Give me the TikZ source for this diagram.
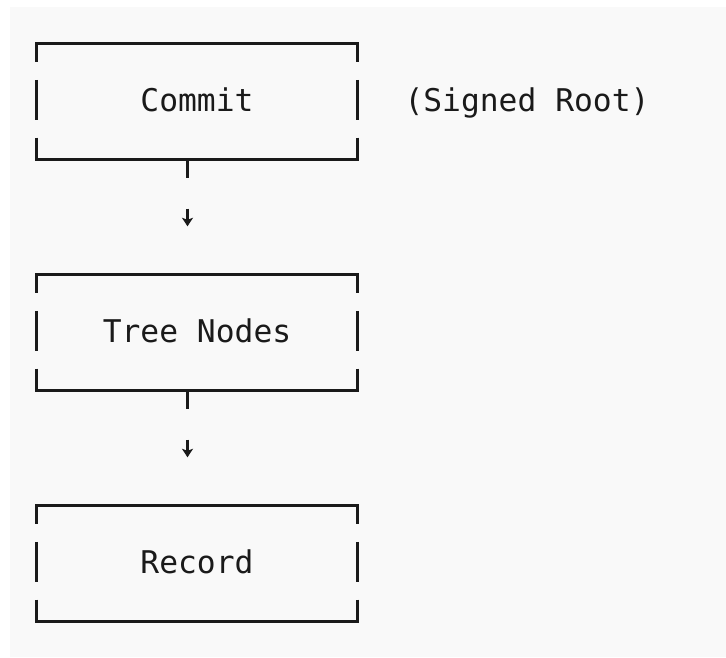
\documentclass[tikz,border=0pt]{standalone}
\usepackage{fontspec}
\usetikzlibrary{arrows.meta}
\newfontfamily\boxfont{DejaVu Sans Mono}
\newcommand\diagfont{\boxfont\fontsize{31.3pt}{37pt}\selectfont}
\definecolor{paper}{HTML}{F9F9F9}
\definecolor{ink}{HTML}{1A1A1A}
\begin{document}
\begin{tikzpicture}[x=1pt,y=-1pt]
	\tikzset{blk/.style={minimum width=320.6pt, minimum height=115.5pt, inner sep=0pt, text height=19.5pt, text depth=0pt, font=\diagfont, text=ink},
		hline/.style={draw=ink, line width=2.6pt, line cap=rect},
		vline/.style={draw=ink, line width=2.6pt, dash pattern=on 18.8pt off 17.7pt on 40pt off 17.7pt on 21.3pt},
		tip/.style={draw=ink, line width=2.2pt, -{Stealth[length=8.5pt,width=11pt,inset=2pt]}}}
	\useasboundingbox (0,0) rectangle (726,657);
	\fill[paper] (10,7) rectangle (726,657);
	\node[blk] (commit) at (197,101.25) {Commit};
	\node[blk] (tree)   at (197,332.25) {Tree Nodes};
	\node[blk] (record) at (197,563.25) {Record};
	\node[font=\diagfont, text=ink, anchor=base] (note) at (527,111) {(Signed Root)};
	% box outlines
	\draw[hline] (commit.north west) -- (commit.north east);
	\draw[hline] (commit.south west) -- (commit.south east);
	\draw[vline] (commit.north west) -- (commit.south west);
	\draw[vline] (commit.north east) -- (commit.south east);
	\draw[hline] (tree.north west) -- (tree.north east);
	\draw[hline] (tree.south west) -- (tree.south east);
	\draw[vline] (tree.north west) -- (tree.south west);
	\draw[vline] (tree.north east) -- (tree.south east);
	\draw[hline] (record.north west) -- (record.north east);
	\draw[hline] (record.south west) -- (record.south east);
	\draw[vline] (record.north west) -- (record.south west);
	\draw[vline] (record.north east) -- (record.south east);
	% connectors
	\draw[hline, line cap=butt] ([xshift=-9.5pt]commit.south) -- ++(0,18.4);
	\draw[tip] ([xshift=-9.5pt,yshift=-49.5pt]commit.south) -- ([xshift=-9.5pt,yshift=48pt]tree.north);
	\draw[hline, line cap=butt] ([xshift=-9.5pt]tree.south) -- ++(0,18.4);
	\draw[tip] ([xshift=-9.5pt,yshift=-49.5pt]tree.south) -- ([xshift=-9.5pt,yshift=48pt]record.north);
\end{tikzpicture}
\end{document}
